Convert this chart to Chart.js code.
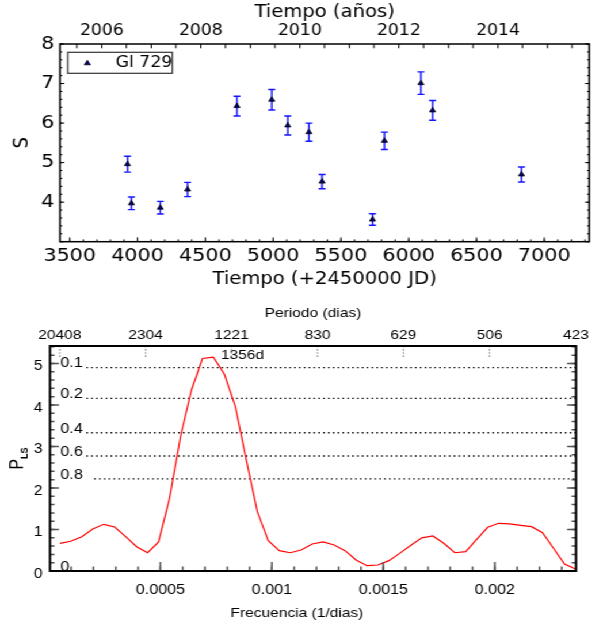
<!DOCTYPE html>
<html><head><meta charset="utf-8">
<script src="https://cdn.jsdelivr.net/npm/chart.js@4.4.1/dist/chart.umd.min.js"></script>
<style>
html,body{margin:0;padding:0;background:#fff;overflow:hidden;}
#wrap{width:524px;transform:scaleX(1.15076);transform-origin:0 0;}
canvas{display:block;}
</style></head><body>
<div id="wrap">
<canvas id="c1" width="524" height="300"></canvas>
<canvas id="c2" width="524" height="325"></canvas>
</div>
<script>
// ===== Top chart data (S index of Gl 729 vs time) =====
const jdTimes   = [3926, 3955, 4168, 4369, 4733, 4990, 5108, 5264, 5361, 5733, 5821, 6090, 6176, 6832];
const sValues   = [4.96, 3.97, 3.86, 4.32, 6.43, 6.59, 5.94, 5.77, 4.52, 3.56, 5.55, 7.01, 6.32, 4.70];
const sErrors   = [0.20, 0.16, 0.16, 0.18, 0.25, 0.26, 0.24, 0.23, 0.18, 0.145, 0.22, 0.285, 0.25, 0.19];
const jdTickValues = [3500, 4000, 4500, 5000, 5500, 6000, 6500, 7000];
const jdTickLabels = ['3500','4000','4500','5000','5500','6000','6500','7000'];
const sTickValues  = [4, 5, 6, 7, 8];
const sTickLabels  = ['4','5','6','7','8'];
const yearTickJD     = [3736.5, 4466.5, 5197.5, 5927.5, 6658.5];
const yearTickLabels = ['2006','2008','2010','2012','2014'];
const halfYearJD = [3552.5, 3736.5, 3917.5, 4101.5, 4282.5, 4466.5, 4648.5, 4832.5, 5013.5, 5197.5, 5378.5,
                    5562.5, 5743.5, 5927.5, 6109.5, 6293.5, 6474.5, 6658.5, 6839.5, 7023.5, 7204.5];

// ===== Bottom chart data (Lomb-Scargle periodogram) =====
const frequencies = [0.0000492, 0.0000984, 0.0001476, 0.0001968, 0.000246, 0.0002952, 0.0003444, 0.0003936,
  0.0004428, 0.000492, 0.0005412, 0.0005904, 0.0006396, 0.0006888, 0.000738, 0.0007872, 0.0008364, 0.0008856,
  0.0009348, 0.000984, 0.0010332, 0.0010824, 0.0011316, 0.0011808, 0.00123, 0.0012792, 0.0013284, 0.0013776,
  0.0014268, 0.001476, 0.0015252, 0.0015744, 0.0016236, 0.0016728, 0.001722, 0.0017712, 0.0018204, 0.0018696,
  0.0019188, 0.001968, 0.0020172, 0.0020664, 0.0021156, 0.0021648, 0.002214, 0.0022632, 0.0023124, 0.0023616];
const powerLS = [0.667, 0.716, 0.827, 1.012, 1.125, 1.06, 0.827, 0.586, 0.44, 0.70, 1.75, 3.24, 4.36, 5.12,
  5.15, 4.74, 3.96, 2.67, 1.43, 0.73, 0.49, 0.44, 0.506, 0.65, 0.70, 0.627, 0.49, 0.265, 0.128, 0.145, 0.25,
  0.43, 0.62, 0.80, 0.843, 0.667, 0.44, 0.466, 0.763, 1.053, 1.149, 1.133, 1.10, 1.068, 0.923, 0.547, 0.169, 0.048];
const freqTickValues  = [0.0005, 0.001, 0.0015, 0.002];
const freqTickLabels  = ['0.0005','0.001','0.0015','0.002'];
const powerTickValues = [0, 1, 2, 3, 4, 5];
const powerTickLabels = ['0','1','2','3','4','5'];
const periodTickLabels = ['20408','2304','1221','830','629','506','423'];
const fapLabels    = ['0.1','0.2','0.4','0.6','0.8','0'];
const fapPower     = [4.90, 4.16, 3.33, 2.77, 2.22, 0];
const fapStartFreq = [0.000168, 0.000168, 0.000168, 0.000168, 0.000203];

// ===== helpers / plugins =====
const S = 603 / 524;               // horizontal stretch of the whole figure
const steps = (a, b, st) => { const o = []; for (let k = 0; a + k * st <= b + st * 1e-6; k++) o.push(+(a + k * st).toFixed(8)); return o; };
const fontTop = "'DejaVu Sans', sans-serif";
const fontBot = "'Liberation Sans', Arial, sans-serif";

const frameTicks = {
  id: 'frameTicks',
  afterDatasetsDraw(chart, args, o) {
    const {ctx, chartArea: a} = chart;
    ctx.save();
    for (const t of o.marks) {
      const sc = chart.scales[t.scale];
      ctx.strokeStyle = t.color || '#000';
      ctx.lineWidth = t.width || 1;
      ctx.setLineDash(t.dash || []);
      ctx.beginPath();
      for (const v of t.values) {
        const p = sc.getPixelForValue(v);
        if (t.edge === 'bottom') { ctx.moveTo(p, a.bottom); ctx.lineTo(p, a.bottom - t.len); }
        else if (t.edge === 'top') { ctx.moveTo(p, a.top); ctx.lineTo(p, a.top + t.len); }
        else if (t.edge === 'left') { ctx.moveTo(a.left, p); ctx.lineTo(a.left + t.len, p); }
        else { ctx.moveTo(a.right, p); ctx.lineTo(a.right - t.len, p); }
      }
      ctx.stroke();
    }
    ctx.setLineDash([]);
    ctx.strokeStyle = o.frameColor; ctx.lineWidth = o.frameWidth;
    ctx.strokeRect(a.left, a.top, a.right - a.left, a.bottom - a.top);
    ctx.restore();
  }
};

const errorBars = {
  id: 'errorBars',
  beforeDatasetsDraw(chart, args, o) {
    const {ctx, scales: {x, y}} = chart;
    ctx.save();
    ctx.strokeStyle = o.color; ctx.lineWidth = o.width;
    chart.data.datasets.forEach(ds => {
      if (!ds.errors) return;
      ds.data.forEach((pt, i) => {
        const px = x.getPixelForValue(pt.x);
        const y1 = y.getPixelForValue(pt.y - ds.errors[i]);
        const y2 = y.getPixelForValue(pt.y + ds.errors[i]);
        ctx.beginPath();
        ctx.moveTo(px, y1); ctx.lineTo(px, y2);
        ctx.moveTo(px - o.cap, y1); ctx.lineTo(px + o.cap, y1);
        ctx.moveTo(px - o.cap, y2); ctx.lineTo(px + o.cap, y2);
        ctx.stroke();
      });
    });
    ctx.restore();
  }
};

const boxLegend = {
  id: 'boxLegend',
  afterDatasetsDraw(chart, args, o) {
    const {ctx, chartArea: a} = chart;
    const ds = chart.data.datasets[0];
    const x0 = a.left + o.dx, y0 = a.top + o.dy;
    ctx.save();
    ctx.fillStyle = '#fff'; ctx.strokeStyle = '#333'; ctx.lineWidth = 1.2;
    ctx.fillRect(x0, y0, o.w, o.h); ctx.strokeRect(x0, y0, o.w, o.h);
    ctx.fillStyle = ds.backgroundColor; ctx.strokeStyle = ds.borderColor; ctx.lineWidth = ds.borderWidth;
    Chart.helpers.drawPoint(ctx, {pointStyle: 'triangle', radius: ds.pointRadius, borderWidth: ds.borderWidth, rotation: 0},
      x0 + o.markerX, y0 + o.h / 2 + 0.5);
    ctx.fillStyle = '#000'; ctx.font = o.font; ctx.textAlign = 'left'; ctx.textBaseline = 'middle';
    ctx.fillText(ds.label, x0 + o.textX, y0 + o.h / 2 + 0.5);
    ctx.restore();
  }
};

const pgAnnotations = {
  id: 'pgAnnotations',
  afterDatasetsDraw(chart, args, o) {
    const {ctx, chartArea: a, scales: {x, y}} = chart;
    ctx.save();
    ctx.fillStyle = '#000';
    ctx.font = o.fapFont; ctx.textAlign = 'left'; ctx.textBaseline = 'middle';
    fapLabels.forEach((lab, i) => ctx.fillText(lab, x.getPixelForValue(o.fapLabelFreq), y.getPixelForValue(fapPower[i]) - 4));
    ctx.font = o.peakFont; ctx.textAlign = 'center';
    ctx.fillText(o.peakText, x.getPixelForValue(o.peakFreq), y.getPixelForValue(o.peakPower));
    // x title
    ctx.font = o.titleFont;
    ctx.fillText(o.xTitle, (a.left + a.right) / 2 + o.xTitleDx, o.xTitleY);
    // y title P_LS with subscript
    ctx.translate(o.yTitleX, (a.top + a.bottom) / 2);
    ctx.rotate(-Math.PI / 2);
    ctx.textAlign = 'left'; ctx.textBaseline = 'alphabetic';
    ctx.font = o.pFont; const wP = ctx.measureText('P').width;
    ctx.font = o.subFont; const wS = ctx.measureText('LS').width;
    const start = -(wP + wS) / 2;
    ctx.font = o.pFont; ctx.fillText('P', start, 5.5);
    ctx.font = o.subFont; ctx.fillText('LS', start + wP, 9.5);
    ctx.restore();
  }
};

// ===== Top chart =====
const jdMin = 3428, jdMax = 7332;
new Chart(document.getElementById('c1'), {
  type: 'scatter',
  data: { datasets: [{
    label: 'Gl 729',
    data: jdTimes.map((t, i) => ({x: t, y: sValues[i]})),
    errors: sErrors,
    pointStyle: 'triangle', pointRadius: 3, backgroundColor: '#00007a', borderColor: '#000', borderWidth: 0.8
  }]},
  options: {
    responsive: false, animation: false, devicePixelRatio: 1,
    layout: {padding: {left: 0, right: 524 - 589.3 / S, top: 0, bottom: 0}},
    plugins: {
      legend: {display: false}, tooltip: {enabled: false},
      errorBars: {color: '#1414ff', width: 1.4, cap: 3},
      boxLegend: {dx: 6.7, dy: 8.3, w: 90.9, h: 21, markerX: 17.1, textX: 41.7, font: "15px 'DejaVu Sans'"},
      frameTicks: {
        frameColor: '#000', frameWidth: 1.5,
        marks: [
          {scale: 'x', edge: 'bottom', values: jdTickValues, len: 4.3},
          {scale: 'x', edge: 'bottom', values: steps(3500, 7300, 100), len: 2.3},
          {scale: 'x2', edge: 'top', values: halfYearJD, len: 4.3},
          {scale: 'y', edge: 'left', values: [3, 4, 5, 6, 7, 8], len: 4.3 / S},
          {scale: 'y', edge: 'left', values: steps(3, 8, 0.2), len: 2.3 / S},
          {scale: 'y', edge: 'right', values: [3, 4, 5, 6, 7, 8], len: 4.3 / S},
          {scale: 'y', edge: 'right', values: steps(3, 8, 0.2), len: 2.3 / S}
        ]
      }
    },
    scales: {
      x: {
        type: 'linear', position: 'bottom', min: jdMin, max: jdMax, bounds: 'data',
        grid: {display: false, drawTicks: false}, border: {display: false},
        afterBuildTicks: s => { s.ticks = jdTickValues.map(v => ({value: v})); },
        ticks: {autoSkip: false, maxRotation: 0, minRotation: 0, padding: 3.5, color: '#000',
                font: {family: fontTop, size: 18}, callback: (v, i) => jdTickLabels[i]},
        afterFit: s => { s.height = 58.3; },
        title: {display: true, text: 'Tiempo (+2450000 JD)', color: '#000', font: {family: fontTop, size: 17},
                padding: {top: 0, bottom: 10.1}}
      },
      x2: {
        type: 'linear', position: 'top', min: jdMin, max: jdMax, bounds: 'data',
        grid: {display: false, drawTicks: false}, border: {display: false},
        afterBuildTicks: s => { s.ticks = yearTickJD.map(v => ({value: v})); },
        ticks: {autoSkip: false, maxRotation: 0, minRotation: 0, padding: 3.5, color: '#000',
                font: {family: fontTop, size: 15}, callback: (v, i) => yearTickLabels[i]},
        afterFit: s => { s.height = 44; },
        title: {display: true, text: 'Tiempo (años)', color: '#000', font: {family: fontTop, size: 17},
                padding: {top: 2.3, bottom: 0}}
      },
      y: {
        type: 'linear', position: 'left', min: 3, max: 8, bounds: 'data',
        grid: {display: false, drawTicks: false}, border: {display: false},
        afterBuildTicks: s => { s.ticks = sTickValues.map(v => ({value: v})); },
        ticks: {autoSkip: false, padding: 5, color: '#000', font: {family: fontTop, size: 18},
                callback: (v, i) => sTickLabels[i]},
        afterFit: s => { s.width = 60 / S; },
        title: {display: true, text: 'S', color: '#000', font: {family: fontTop, size: 18},
                padding: {top: 8.9, bottom: 0}}
      }
    }
  },
  plugins: [errorBars, frameTicks, boxLegend]
});

// ===== Bottom chart =====
const fMin = 0.000005, fMax = 0.002364;
const fapDatasets = fapStartFreq.map((f0, i) => ({
  label: 'FAP ' + fapLabels[i],
  data: [{x: f0, y: fapPower[i]}, {x: fMax, y: fapPower[i]}],
  borderColor: '#000', borderWidth: 1.3, borderDash: [1.4, 2.8], pointRadius: 0, fill: false
}));
new Chart(document.getElementById('c2'), {
  type: 'line',
  data: { datasets: [
    {label: 'Periodograma', data: frequencies.map((f, i) => ({x: f, y: powerLS[i]})),
     borderColor: '#ff0000', borderWidth: 1.2, pointRadius: 0, tension: 0, fill: false},
    ...fapDatasets
  ]},
  options: {
    responsive: false, animation: false, devicePixelRatio: 1,
    layout: {padding: {left: 0, right: 524 - 576 / S, top: 0, bottom: 0}},
    plugins: {
      legend: {display: false}, tooltip: {enabled: false},
      pgAnnotations: {
        fapFont: "14px 'Liberation Sans', Arial", fapLabelFreq: 0.000052,
        peakFont: "13.5px 'Liberation Sans', Arial", peakText: '1356d', peakFreq: 0.000869, peakPower: 5.2,
        titleFont: "13.5px 'Liberation Sans', Arial", xTitle: 'Frecuencia (1/dias)', xTitleDx: -14, xTitleY: 313.3,
        yTitleX: 17 / S, pFont: "16px 'Liberation Sans', Arial", subFont: "bold 9px 'Liberation Sans', Arial"
      },
      frameTicks: {
        frameColor: '#000', frameWidth: 2,
        marks: [
          {scale: 'x', edge: 'bottom', values: freqTickValues, len: 9, color: '#555', width: 1.5},
          {scale: 'x', edge: 'bottom', values: steps(0.0001, 0.0023, 0.0001), len: 4.5, color: '#555', width: 1.5},
          {scale: 'y', edge: 'left', values: powerTickValues, len: 9 / S, color: '#555', width: 1.5},
          {scale: 'y', edge: 'left', values: steps(0, 5.4, 0.2), len: 4.5 / S, color: '#555', width: 1.5},
          {scale: 'y', edge: 'right', values: powerTickValues, len: 9 / S, color: '#555', width: 1.5},
          {scale: 'y', edge: 'right', values: steps(0, 5.4, 0.2), len: 4.5 / S, color: '#555', width: 1.5},
          {scale: 'x2', edge: 'top', values: periodTickLabels.map(p => 1 / Number(p)), len: 12, color: '#666', width: 1.2, dash: [1.2, 2]}
        ]
      }
    },
    scales: {
      x: {
        type: 'linear', position: 'bottom', min: fMin, max: fMax, bounds: 'data',
        grid: {display: false, drawTicks: false}, border: {display: false},
        afterBuildTicks: s => { s.ticks = freqTickValues.map(v => ({value: v})); },
        ticks: {autoSkip: false, maxRotation: 0, minRotation: 0, padding: 11, color: '#000',
                font: {family: fontBot, size: 14}, callback: (v, i) => freqTickLabels[i]},
        afterFit: s => { s.height = 54; },
        title: {display: false}
      },
      x2: {
        type: 'linear', position: 'top', min: fMin, max: fMax, bounds: 'data',
        grid: {display: false, drawTicks: false}, border: {display: false},
        afterBuildTicks: s => { s.ticks = periodTickLabels.map(p => ({value: 1 / Number(p)})); },
        ticks: {autoSkip: false, maxRotation: 0, minRotation: 0, padding: 2.2, color: '#000',
                font: {family: fontBot, size: 13.5}, callback: (v, i) => periodTickLabels[i]},
        afterFit: s => { s.height = 46; },
        title: {display: true, text: 'Periodo (dias)', color: '#000', font: {family: fontBot, size: 13.5},
                padding: {top: 5.2, bottom: 0}}
      },
      y: {
        type: 'linear', position: 'left', min: 0, max: 5.42, bounds: 'data',
        grid: {display: false, drawTicks: false}, border: {display: false},
        afterBuildTicks: s => { s.ticks = powerTickValues.map(v => ({value: v})); },
        ticks: {autoSkip: false, padding: 6.5, labelOffset: 3, color: '#000', font: {family: fontBot, size: 14},
                callback: (v, i) => powerTickLabels[i]},
        afterFit: s => { s.width = 50 / S; },
        title: {display: false}
      }
    }
  },
  plugins: [frameTicks, pgAnnotations]
});
</script>
</body></html>
